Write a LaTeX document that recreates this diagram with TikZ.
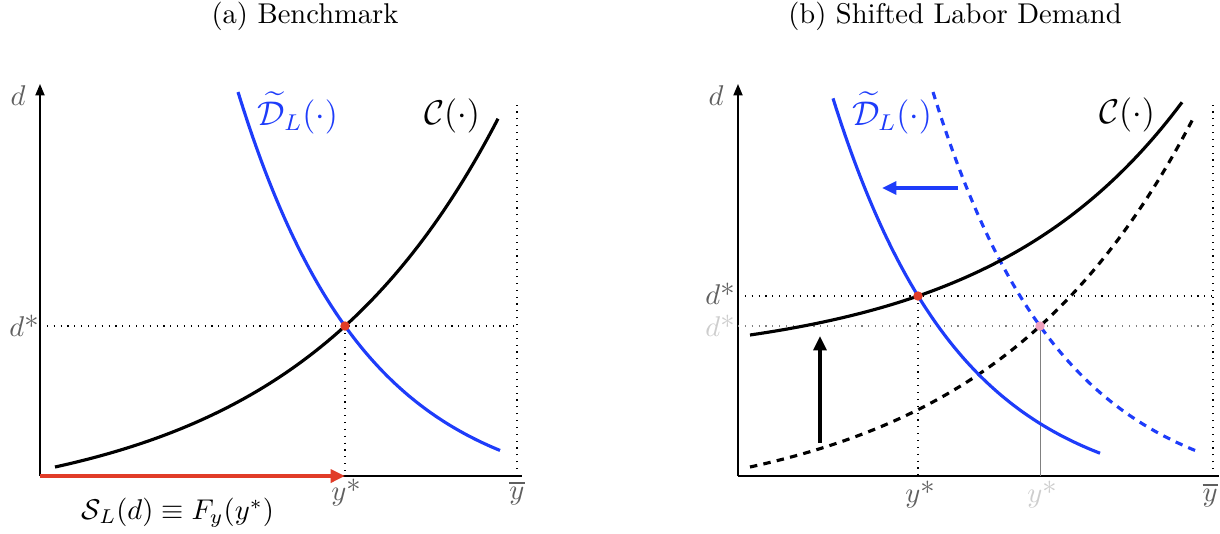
\documentclass[tikz,border=0pt]{standalone}
\usepackage{amsmath,amssymb}
\usetikzlibrary{arrows.meta}
\definecolor{myblue}{RGB}{30,60,250}
\definecolor{myred}{RGB}{225,60,40}
\definecolor{labgray}{RGB}{95,95,95}
\definecolor{lightlab}{RGB}{205,205,205}
\definecolor{pinkdot}{RGB}{240,160,190}
\tikzset{
  axis/.style={line width=0.55pt},
  curve/.style={line width=1.1pt},
  dcurve/.style={line width=1.1pt, dash pattern=on 2.6pt off 2.2pt},
  guide/.style={line width=0.4pt, dotted},
  glab/.style={text=labgray, font=\normalsize},
  lglab/.style={text=lightlab, font=\normalsize},
  dot/.style={circle, inner sep=0pt, minimum size=3.3pt},
}
\begin{document}
\begin{tikzpicture}[x=0.35pt,y=-0.35pt]
\useasboundingbox (0,0) rectangle (1220,533);
% titles
\node (ta) at (305,16) {(a) Benchmark};
\node (tb) at (955,16) {(b) Shifted Labor Demand};

%%%%% Left panel
\coordinate (lo) at (40,476);
\coordinate (ltop) at (40,84);
\coordinate (lxend) at (522,476);
\coordinate (lybar) at (517,476);
\coordinate (lybartop) at (517,100);
\coordinate (leq) at (345,326);
\coordinate (ldax) at (40,326);
\coordinate (ldend) at (517,326);
\coordinate (lyax) at (345,476);
\draw[axis] (lo) -- (lxend);
\draw[axis,-{Triangle[length=4pt,width=3.2pt]}] (lo) -- (ltop);
\draw[guide] (lybar) -- (lybartop);
\draw[guide] (ldax) -- (ldend);
\draw[guide] (leq) -- (lyax);
\draw[curve] plot[domain=55:498, samples=90] (\x, {476+35.9-44.9*exp(0.0049*(\x-55))});
\draw[curve,myblue] plot[domain=238:500, samples=90] (\x, {476+26.1-410.1*exp(-0.0079*(\x-238))});
\draw[myred,line width=1.3pt,-{Triangle[length=5pt,width=4.5pt]}] (lo) -- (lyax);
\node[dot,fill=myred] (leqdot) at (leq) {};
\node[glab] (ld) at (18,96) {$d$};
\node[glab] (ldstar) at (24,326) {$d$*};
\node[glab] (lystar) at (346,493) {$y$*};
\node[glab] (lybarl) at (517,493) {$\overline{y}$};
\node[myblue,font=\large] (lDlab) at (298,113) {$\widetilde{\mathcal{D}}_L(\cdot)$};
\node[font=\large] (lClab) at (452,116) {$\mathcal{C}(\cdot)$};
\node (lS) at (178,513) {$\mathcal{S}_L(d)\equiv F_y(y^{*})$};

%%%%% Right panel
\coordinate (ro) at (738,476);
\coordinate (rtop) at (738,84);
\coordinate (rxend) at (1219,476);
\coordinate (rybar) at (1213,476);
\coordinate (rybartop) at (1213,100);
\coordinate (reqn) at (918,296);
\coordinate (reqo) at (1040,326);
\coordinate (rdn) at (738,296);
\coordinate (rdnend) at (1213,296);
\coordinate (rdo) at (738,326);
\coordinate (rdoend) at (1213,326);
\coordinate (ryn) at (918,476);
\coordinate (ryo) at (1040,476);
\draw[axis] (ro) -- (rxend);
\draw[axis,-{Triangle[length=4pt,width=3.2pt]}] (ro) -- (rtop);
\draw[guide] (rybar) -- (rybartop);
\draw[guide] (rdn) -- (rdnend);
\draw[guide,gray] (rdo) -- (rdoend);
\draw[guide] (reqn) -- (ryn);
\draw[line width=0.3pt,gray] (reqo) -- (ryo);
% old curves (dashed)
\draw[dcurve] plot[domain=55:498, samples=90] ({\x+695}, {476+35.9-44.9*exp(0.0049*(\x-55))});
\draw[dcurve,myblue] plot[domain=238:503, samples=90] ({\x+695}, {476+26.1-410.1*exp(-0.0079*(\x-238))});
% new curves
\draw[curve] plot[domain=750:1182, samples=90] (\x, {476-112.5-28.52*exp(0.00513*(\x-750))});
\draw[curve,myblue] plot[domain=240:507, samples=90] ({\x+593}, {476+26.1-410.1*exp(-0.0079*(\x-238))});
\node[dot,fill=myred] (reqndot) at (reqn) {};
\node[dot,fill=pinkdot] (reqodot) at (reqo) {};
% shift arrows
\coordinate (bas) at (958,188);
\coordinate (bae) at (882,188);
\draw[myblue,line width=1.1pt,-{Triangle[length=5pt,width=4.5pt]}] (bas) -- (bae);
\coordinate (kas) at (820,443);
\coordinate (kae) at (820,336);
\draw[line width=1.1pt,-{Triangle[length=5pt,width=4.5pt]}] (kas) -- (kae);
% labels
\node[glab] (rd) at (716,96) {$d$};
\node[glab] (rdstar) at (720,294) {$d$*};
\node[lglab] (rdostar) at (720,326) {$d$*};
\node[glab] (rystar) at (920,495) {$y$*};
\node[lglab] (ryostar) at (1042,495) {$y$*};
\node[glab] (rybarl) at (1210,495) {$\overline{y}$};
\node[myblue,font=\large] (rDlab) at (892,113) {$\widetilde{\mathcal{D}}_L(\cdot)$};
\node[font=\large] (rClab) at (1127,115) {$\mathcal{C}(\cdot)$};
\end{tikzpicture}
\end{document}
